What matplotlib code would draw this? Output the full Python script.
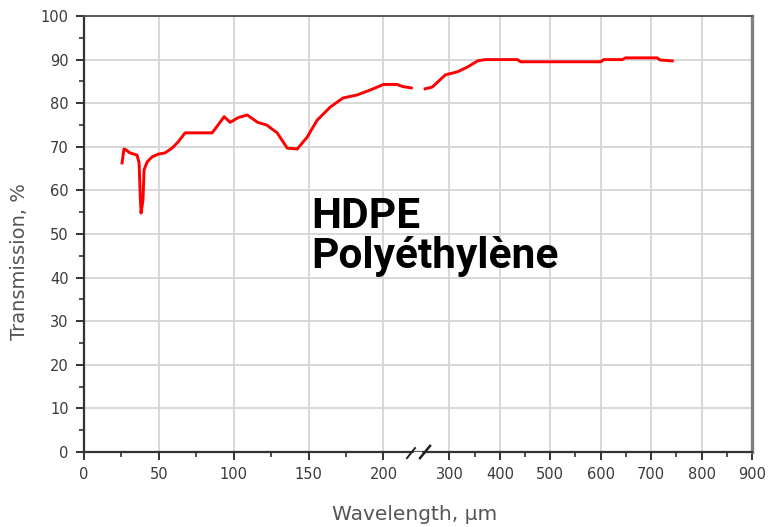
import numpy as np
import matplotlib
matplotlib.use("Agg")
import matplotlib.pyplot as plt
from matplotlib.ticker import FixedLocator

# transmission curve (wavelength in um, transmission in %)
wl_lo = [25.4, 26.7, 28.0, 30.7, 35.4, 36.8, 37.6, 38.1, 39.4, 40.1, 42.1, 45.5,
         49.5, 54.1, 58.8, 62.8, 67.5, 75.0, 85.6, 93.6, 97.6, 103.0, 109.0,
         116.0, 122.0, 129.0, 135.7, 142.4, 149.0, 155.7, 164.4, 173.0, 182.5,
         191.0, 200.0, 209.0, 213.0, 218.6]
tr_lo = [66.3, 69.5, 69.3, 68.6, 68.1, 66.3, 58.3, 54.8, 57.8, 64.7, 66.5, 67.7,
         68.3, 68.6, 69.7, 71.1, 73.2, 73.2, 73.2, 76.9, 75.6, 76.7, 77.3,
         75.6, 75.0, 73.2, 69.7, 69.5, 72.2, 76.1, 79.1, 81.2, 81.9,
         83.0, 84.3, 84.3, 83.8, 83.5]

wl_hi = [252, 266, 292, 316, 336, 356, 371, 435, 441, 600, 606, 643, 649, 712,
         718, 742]
tr_hi = [83.3, 83.7, 86.5, 87.2, 88.3, 89.7, 90.0, 90.0, 89.5, 89.5, 90.0, 90.0,
         90.4, 90.4, 89.9, 89.7]

x_major = [0, 50, 100, 150, 200, 300, 400, 500, 600, 700, 800, 900]
x_minor = [25, 75, 125, 175, 350, 450, 550, 650, 750, 850]
y_major = list(range(0, 101, 10))
y_minor = list(range(5, 100, 10))

# broken wavelength axis: 0-222 at full scale, 240-900 compressed
knots_x = [0, 222, 240, 900]
knots_u = [0, 222, 223.8, 446.1]


def fwd(x):
    return np.interp(x, knots_x, knots_u)


def inv(u):
    return np.interp(u, knots_u, knots_x)


fig = plt.figure(figsize=(7.8, 5.27), dpi=100)
ax = fig.add_axes([84 / 780, 75 / 527, 668 / 780, 436 / 527])
ax.set_xscale("function", functions=(fwd, inv))
ax.set_xlim(0, 900)
ax.set_ylim(0, 100)

ax.plot(wl_lo, tr_lo, color="#ff0000", linewidth=2.1, zorder=3)
ax.plot(wl_hi, tr_hi, color="#ff0000", linewidth=2.1, zorder=3)

ax.xaxis.set_major_locator(FixedLocator(x_major))
ax.xaxis.set_minor_locator(FixedLocator(x_minor))
ax.yaxis.set_major_locator(FixedLocator(y_major))
ax.yaxis.set_minor_locator(FixedLocator(y_minor))
ax.set_xticklabels([str(v) for v in x_major])
ax.set_yticklabels([str(v) for v in y_major])
ax.grid(True, which="major", color="#d6d6d6", linewidth=1.3)
ax.set_axisbelow(True)

ax.tick_params(which="major", direction="out", length=6, width=1.4,
               color="#333333", labelsize=10.5, labelcolor="#3a3a3a", pad=5)
ax.tick_params(which="minor", direction="out", length=3.5, width=1.2,
               color="#333333")

for side in ["left", "bottom"]:
    ax.spines[side].set_color("#333333")
    ax.spines[side].set_linewidth(1.6)
ax.spines["top"].set_color("#555555")
ax.spines["top"].set_linewidth(1.4)
ax.spines["right"].set_color("#808080")
ax.spines["right"].set_linewidth(2.4)

# break marks on the wavelength axis (axes fraction)
ax.plot([0.4955, 0.503], [-0.002, -0.002], transform=ax.transAxes,
        color="white", linewidth=2.5, clip_on=False, zorder=4)
ax.plot([0.4835, 0.4955], [-0.014, 0.009], transform=ax.transAxes,
        color="#222222", linewidth=1.4, clip_on=False, zorder=5)
ax.plot([0.503, 0.518], [-0.014, 0.014], transform=ax.transAxes,
        color="#222222", linewidth=1.8, clip_on=False, zorder=5)

fig.text(20 / 780, 1 - 262 / 527, "Transmission, %", rotation=90,
         ha="center", va="center", fontsize=14, color="#555555")
fig.text(415 / 780, 1 - 514 / 527, "Wavelength, µm", ha="center",
         va="center", fontsize=14.5, color="#555555")

fig.text(311 / 780, 1 - 228 / 527, "HDPE", ha="left", va="baseline",
         fontsize=30.5, fontweight="bold", family="Roboto", color="black")
fig.text(311 / 780, 1 - 268 / 527, "Polyéthylène", ha="left",
         va="baseline", fontsize=30.5, fontweight="bold", family="Roboto",
         color="black")

fig.savefig("out.png", dpi=100)
